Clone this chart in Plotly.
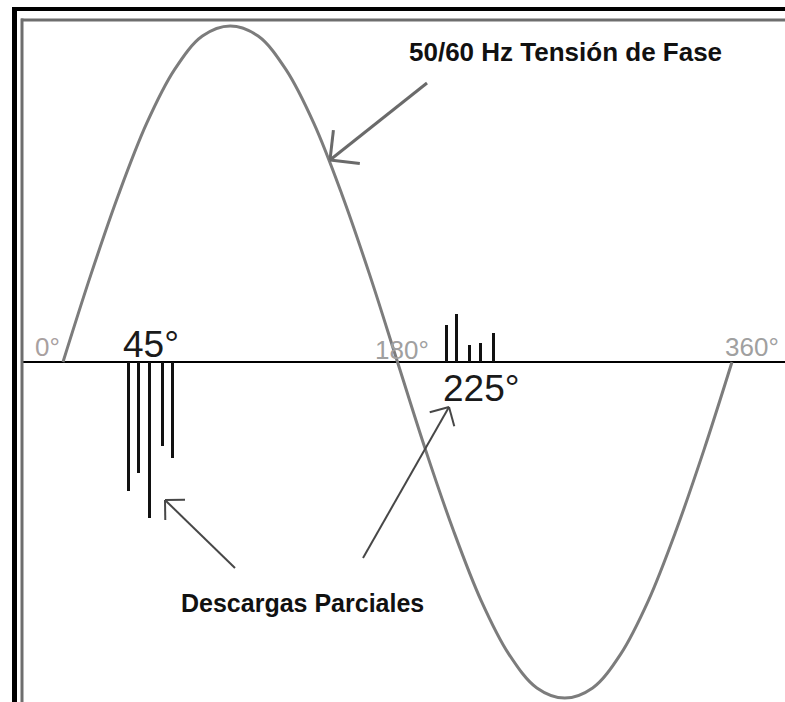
import math
import plotly.graph_objects as go

# ---------------- data ----------------
phase_deg = [0, 15, 30, 45, 60, 75, 90, 105, 120, 135, 150, 165, 180,
             195, 210, 225, 240, 255, 270, 285, 300, 315, 330, 345, 360]
phase_val = [0.00, 0.26, 0.50, 0.71, 0.87, 0.97, 1.00, 0.97, 0.87, 0.71, 0.50, 0.26, 0.00,
             -0.26, -0.50, -0.71, -0.87, -0.97, -1.00, -0.97, -0.87, -0.71, -0.50, -0.26, 0.00]

pd_neg_deg = [35.0, 40.4, 46.3, 53.3, 58.7]
pd_neg_val = [-0.384, -0.330, -0.464, -0.250, -0.286]

pd_pos_deg = [206.6, 212.0, 218.5, 224.4, 231.4]
pd_pos_val = [0.110, 0.143, 0.051, 0.057, 0.086]

tick_labels = ["0°", "180°", "360°"]
mark_labels = ["45°", "225°"]
title_text = "50/60 Hz Tensión de Fase"
pd_text = "Descargas Parciales"

# ---------------- geometry ----------------
W, H = 785, 702
X0PX, PXDEG = 63.0, 669.0 / 360.0
Y0PX, PXUNIT = 362.0, 336.0
XR = [-X0PX / PXDEG, (W - X0PX) / PXDEG]
YR = [-(H - Y0PX) / PXUNIT, Y0PX / PXUNIT]


def px_x(px):
    return (px - X0PX) / PXDEG


def px_y(py):
    return (Y0PX - py) / PXUNIT


def pap_x(px):
    return px / W


def pap_y(py):
    return 1 - py / H


FONT = "Liberation Sans, Arial, sans-serif"

fig = go.Figure()

fig.add_trace(go.Scatter(x=phase_deg, y=phase_val, mode="lines",
                         line=dict(color="#7c7c7c", width=3, shape="spline", smoothing=1.0),
                         hoverinfo="skip", showlegend=False))
fig.add_trace(go.Bar(x=pd_neg_deg, y=pd_neg_val, width=1.6,
                     marker=dict(color="#111111", line=dict(width=0)),
                     showlegend=False, hoverinfo="skip"))
fig.add_trace(go.Bar(x=pd_pos_deg, y=pd_pos_val, width=1.6,
                     marker=dict(color="#111111", line=dict(width=0)),
                     showlegend=False, hoverinfo="skip"))

shapes = []
# frame
shapes.append(dict(type="line", xref="paper", yref="paper", x0=pap_x(14.5), x1=pap_x(14.5),
                   y0=pap_y(7), y1=0, line=dict(color="black", width=5)))
shapes.append(dict(type="line", xref="paper", yref="paper", x0=pap_x(12), x1=1,
                   y0=pap_y(9), y1=pap_y(9), line=dict(color="black", width=4)))
shapes.append(dict(type="line", xref="paper", yref="paper", x0=pap_x(22), x1=pap_x(22),
                   y0=pap_y(18.5), y1=0, line=dict(color="#6e6e6e", width=3)))
shapes.append(dict(type="line", xref="paper", yref="paper", x0=pap_x(21), x1=1,
                   y0=pap_y(20), y1=pap_y(20), line=dict(color="#6e6e6e", width=3)))
# horizontal axis line
shapes.append(dict(type="line", xref="paper", yref="y", x0=pap_x(22), x1=1,
                   y0=0, y1=0, line=dict(color="black", width=2), layer="below"))


def add_arrow(tail, tip, color, width, arm):
    dx, dy = tail[0] - tip[0], tail[1] - tip[1]
    n = math.hypot(dx, dy)
    ux, uy = dx / n, dy / n
    shapes.append(dict(type="line", xref="paper", yref="paper",
                       x0=pap_x(tail[0]), y0=pap_y(tail[1]), x1=pap_x(tip[0]), y1=pap_y(tip[1]),
                       line=dict(color=color, width=width)))
    for a in (math.radians(45), math.radians(-45)):
        rx = ux * math.cos(a) - uy * math.sin(a)
        ry = ux * math.sin(a) + uy * math.cos(a)
        shapes.append(dict(type="line", xref="paper", yref="paper",
                           x0=pap_x(tip[0]), y0=pap_y(tip[1]),
                           x1=pap_x(tip[0] + arm * rx), y1=pap_y(tip[1] + arm * ry),
                           line=dict(color=color, width=width)))


add_arrow((427, 83), (330, 160), "#6a6a6a", 3, 30)
add_arrow((235, 568), (165, 500), "#474747", 2, 20)
add_arrow((363, 558), (449, 407), "#474747", 2, 20)

ann = []
ann.append(dict(x=px_x(62), y=px_y(347), text=tick_labels[0], showarrow=False,
                xanchor="right", yanchor="middle",
                font=dict(family=FONT, size=26, color="#a8a0a0")))
ann.append(dict(x=px_x(402), y=px_y(350), text=tick_labels[1], showarrow=False,
                xanchor="center", yanchor="middle",
                font=dict(family=FONT, size=26, color="#a0a0a0")))
ann.append(dict(x=px_x(723), y=px_y(347), text=tick_labels[2], showarrow=False,
                xanchor="left", yanchor="middle",
                font=dict(family=FONT, size=26, color="#a0a0a0")))
ann.append(dict(x=px_x(151), y=px_y(344), text=mark_labels[0], showarrow=False,
                xanchor="center", yanchor="middle",
                font=dict(family=FONT, size=37, color="#1a1a1a")))
ann.append(dict(x=px_x(481), y=px_y(388), text=mark_labels[1], showarrow=False,
                xanchor="center", yanchor="middle",
                font=dict(family=FONT, size=37, color="#1a1a1a")))
ann.append(dict(x=px_x(565), y=px_y(52), text="<b>" + title_text + "</b>", showarrow=False,
                xanchor="center", yanchor="middle",
                font=dict(family=FONT, size=26, color="#111111")))
ann.append(dict(x=px_x(302), y=px_y(603), text="<b>" + pd_text + "</b>", showarrow=False,
                xanchor="center", yanchor="middle",
                font=dict(family=FONT, size=25, color="#111111")))

fig.update_layout(
    width=W, height=H, autosize=False,
    margin=dict(l=0, r=0, t=0, b=0, pad=0),
    paper_bgcolor="white", plot_bgcolor="white",
    xaxis=dict(range=XR, visible=False, fixedrange=True),
    yaxis=dict(range=YR, visible=False, fixedrange=True),
    shapes=shapes, annotations=ann, bargap=0, showlegend=False,
)

fig.write_html("out.html", config={"displayModeBar": False},
               post_script="document.body.style.margin='0';")
